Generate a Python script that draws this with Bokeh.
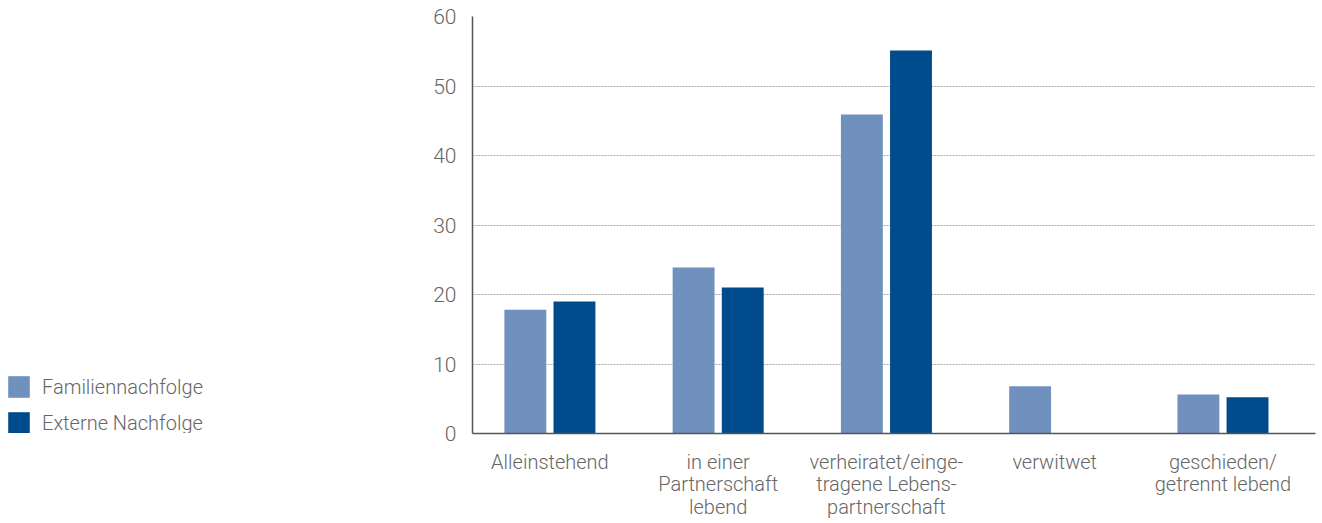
import numpy as np
from bokeh.plotting import figure
from bokeh.layouts import row
from bokeh.models import Range1d, FixedTicker, Legend, LegendItem, ColumnDataSource
from bokeh.embed import file_html
from bokeh.resources import INLINE

categories = ["Alleinstehend", "in einer\nPartnerschaft\nlebend",
              "verheiratet/einge-\ntragene Lebens-\npartnerschaft",
              "verwitwet", "geschieden/\ngetrennt lebend"]
familien = [17.8, 23.9, 45.9, 6.8, 5.6]
extern = [19.0, 21.0, 55.1, 0.0, 5.2]
series_names = ["Familiennachfolge", "Externe Nachfolge"]
y_ticks = [0, 10, 20, 30, 40, 50, 60]

LIGHT = "#7090be"
DARK = "#004b8c"
TXT = "#666666"
AX = "#555555"
FONT = "Roboto Light"
H = 523

idx = np.arange(len(categories))

# legend panel (left)
lp = figure(width=420, height=H, output_backend="svg", toolbar_location=None,
            x_range=Range1d(0, 1), y_range=Range1d(0, 1),
            min_border=0)
lp.axis.visible = False
lp.grid.visible = False
lp.outline_line_color = None
lp.background_fill_color = None
lp.border_fill_color = None
d1 = lp.vbar(x=[0.5], top=[0], bottom=[0], width=0.0, fill_color=LIGHT, line_color=None)
d2 = lp.vbar(x=[0.5], top=[0], bottom=[0], width=0.0, fill_color=DARK, line_color=None)
legend = Legend(items=[LegendItem(label=series_names[0], renderers=[d1]),
                       LegendItem(label=series_names[1], renderers=[d2])],
                location=(5, -3), orientation="vertical",
                glyph_width=27, glyph_height=27, label_standoff=10,
                spacing=9, padding=0, margin=0,
                border_line_color=None, background_fill_color=None,
                label_text_font=FONT, label_text_font_size="20px",
                label_text_color=TXT, label_height=27)
lp.add_layout(legend, "center")

# chart
p = figure(width=900, height=H, output_backend="svg", toolbar_location=None,
           x_range=Range1d(-0.46, 4.55), y_range=Range1d(0, 60),
           min_border_left=52, min_border_right=5, min_border_top=16,
           min_border_bottom=90)
p.outline_line_color = None
p.background_fill_color = None
p.border_fill_color = None

src1 = ColumnDataSource(dict(x=idx - 0.146, top=familien))
src2 = ColumnDataSource(dict(x=idx + 0.146, top=extern))
p.vbar(x="x", top="top", width=0.249, bottom=0, source=src1,
       fill_color=LIGHT, line_color=None)
p.vbar(x="x", top="top", width=0.249, bottom=0, source=src2,
       fill_color=DARK, line_color=None)

xa = p.xaxis[0]
xa.ticker = FixedTicker(ticks=list(idx))
xa.major_label_overrides = {int(i): c for i, c in zip(idx, categories)}
xa.axis_line_color = AX
xa.axis_line_width = 1.5
xa.major_tick_line_color = None
xa.minor_tick_line_color = None
xa.major_label_text_font = FONT
xa.major_label_text_font_size = "20px"
xa.major_label_text_color = TXT
xa.major_label_text_line_height = 0.95
xa.major_label_standoff = 10

ya = p.yaxis[0]
ya.ticker = FixedTicker(ticks=y_ticks)
ya.axis_line_color = AX
ya.axis_line_width = 1.5
ya.major_tick_line_color = None
ya.minor_tick_line_color = None
ya.major_label_text_font = FONT
ya.major_label_text_font_size = "21px"
ya.major_label_text_color = TXT
ya.major_label_standoff = 10

p.xgrid.grid_line_color = None
p.ygrid.ticker = FixedTicker(ticks=y_ticks[1:])
p.ygrid.grid_line_color = "#aaaaaa"
p.ygrid.grid_line_dash = "2 1"
p.ygrid.grid_line_width = 1

layout = row(lp, p)
open("out.html", "w").write(file_html(layout, INLINE))
